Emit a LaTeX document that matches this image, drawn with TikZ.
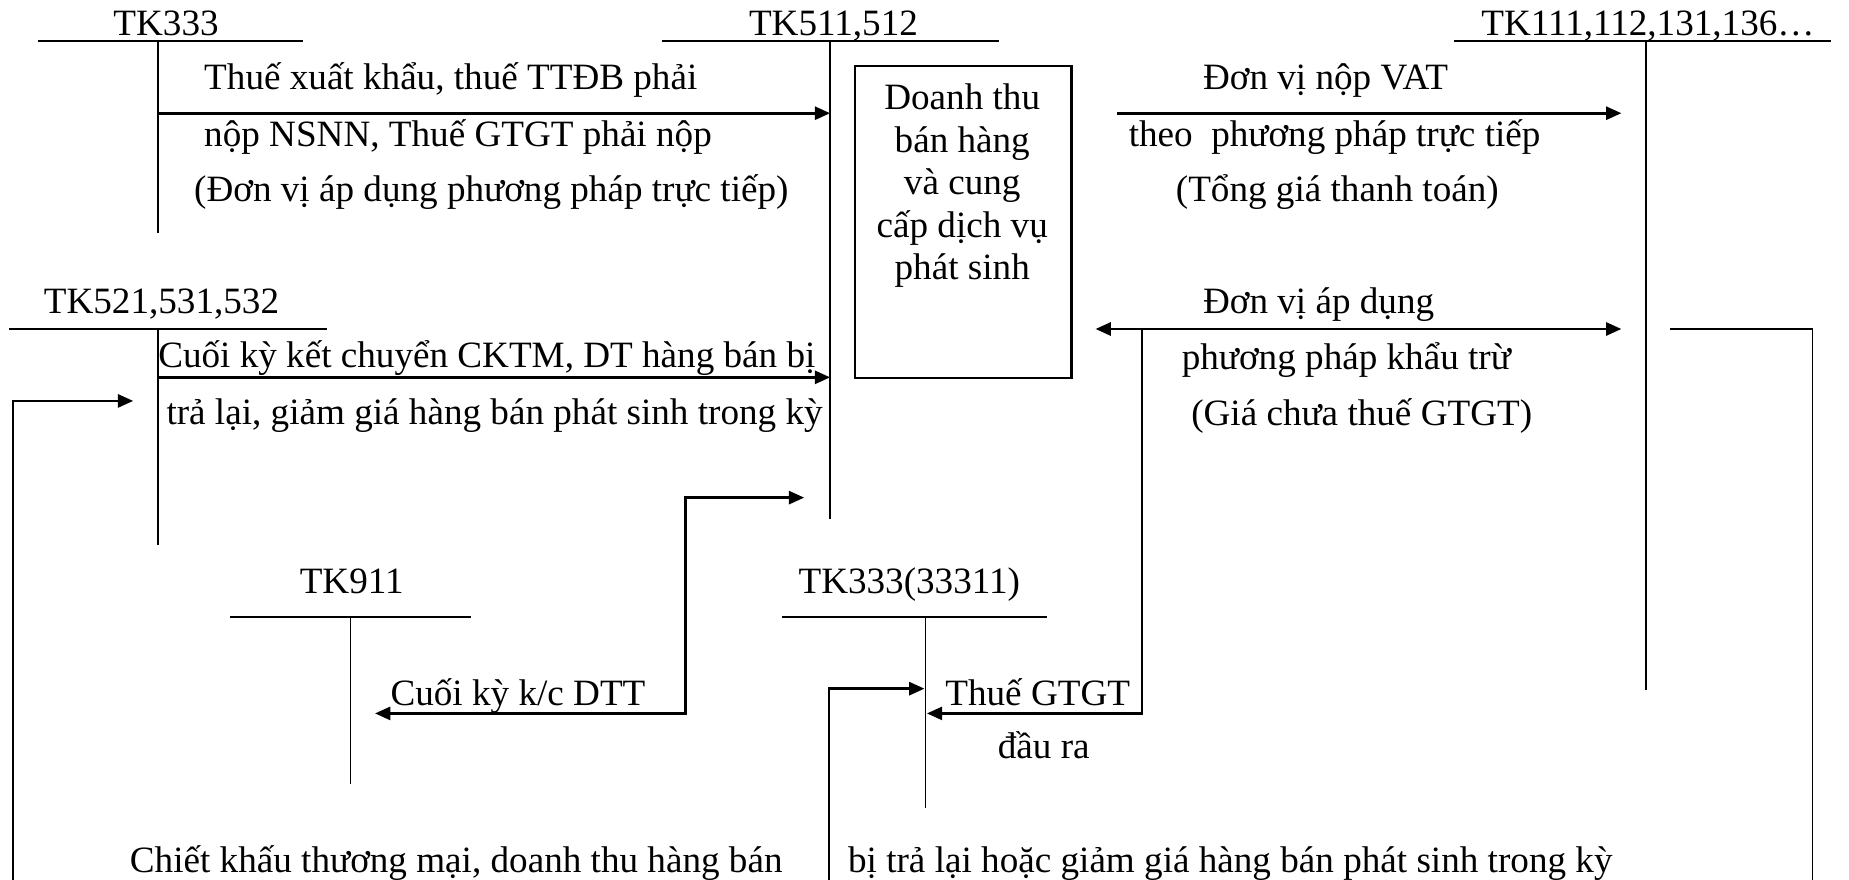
\documentclass[tikz,border=0pt]{standalone}
\usepackage{fontspec}
\setmainfont{Liberation Serif}
\usetikzlibrary{arrows.meta}
\begin{document}
\begin{tikzpicture}[x=1pt,y=-1pt,
  acct/.style={line width=1.9pt},
  stem/.style={line width=1.2pt},
  tip/.style={-{Triangle[length=13pt,width=11pt]}},
  flow/.style={line width=2.4pt,tip},
  twoway/.style={line width=2.4pt,{Triangle[length=13pt,width=11pt]}-{Triangle[length=13pt,width=11pt]}},
  plain/.style={line width=2.4pt},
  txt/.style={inner sep=0pt,anchor=base west,font=\fontsize{31.5}{36}\selectfont},
  ctxt/.style={inner sep=0pt,anchor=base,font=\fontsize{31.5}{36}\selectfont},
  boxed/.style={draw,line width=2pt,inner sep=0pt,anchor=north west}
]
\useasboundingbox (0,0) rectangle (1568,746);

% ---- T-accounts: heading line, stem and name ----
% TK333
\node[txt] (n333) at (96,30) {TK333};
\draw[acct] (32,35) -- (257,35);
\coordinate (t333) at (134,35);
\coordinate (b333) at (134,198);
\draw[stem] (t333) -- (b333);

% TK511,512
\node[txt] (n511) at (635,30) {TK511,512};
\draw[acct] (561,35) -- (847,35);
\coordinate (t511) at (704,35);
\coordinate (b511) at (704,440);
\draw[stem] (t511) -- (b511);

% TK111,112,131,136...
\node[txt] (n111) at (1256,30) {TK111,112,131,136…};
\draw[acct] (1233,35) -- (1553,35);
\coordinate (t111) at (1396,35);
\coordinate (b111) at (1396,585);
\draw[stem] (t111) -- (b111);

% TK521,531,532
\node[txt] (n521) at (37,266) {TK521,531,532};
\draw[acct] (8,279) -- (277,279);
\coordinate (t521) at (134,279);
\coordinate (b521) at (134,462);
\draw[stem] (t521) -- (b521);

% TK911
\node[txt] (n911) at (254,503) {TK911};
\draw[acct] (195,523) -- (399,523);
\coordinate (t911) at (297,523);
\coordinate (b911) at (297,665);
\draw[stem] (t911) -- (b911);

% TK333(33311)
\node[txt] (n33311) at (677,503) {TK333(33311)};
\draw[acct] (663,523) -- (888,523);
\coordinate (t33311) at (785,523);
\coordinate (b33311) at (785,685);
\draw[stem] (t33311) -- (b33311);

% ---- revenue box ----
\node[boxed,minimum width=183.5pt,minimum height=264.5pt] (rev) at (724,55) {};
\node[ctxt] (rev1) at (816,93) {Doanh thu};
\node[ctxt] (rev2) at (816,129) {bán hàng};
\node[ctxt] (rev3) at (816,165) {và cung};
\node[ctxt] (rev4) at (816,201) {cấp dịch vụ};
\node[ctxt] (rev5) at (816,237) {phát sinh};

% ---- TK333 -> TK511 ----
\coordinate (a1s) at (134,96);
\coordinate (a1e) at (704,96);
\draw[flow] (a1s) -- (a1e);
\node[txt] (l1a) at (173,76) {Thuế xuất khẩu, thuế TTĐB phải};
\node[txt] (l1b) at (173,124) {nộp NSNN, Thuế GTGT phải nộp};
\node[txt] (l1c) at (164.5,171) {(Đơn vị áp dụng phương pháp trực tiếp)};

% ---- box -> TK111 ----
\coordinate (a2s) at (947.5,96);
\coordinate (a2e) at (1375,96);
\draw[flow] (a2s) -- (a2e);
\node[txt] (l2a) at (1020,76) {Đơn vị nộp VAT};
\node[txt] (l2b) at (957,124) {theo\ \ phương pháp trực tiếp};
\node[txt] (l2c) at (997,171) {(Tổng giá thanh toán)};

% ---- TK521 -> TK511 ----
\coordinate (a3s) at (134,320);
\coordinate (a3e) at (704,320);
\draw[flow] (a3s) -- (a3e);
\node[txt] (l3a) at (134,312) {Cuối kỳ kết chuyển CKTM, DT hàng bán bị};
\node[txt] (l3b) at (141,360) {trả lại, giảm giá hàng bán phát sinh trong kỳ};

% ---- deduction method: both ways, and output VAT to TK33311 ----
\coordinate (a4l) at (929,279);
\coordinate (a4r) at (1375,279);
\draw[twoway] (a4l) -- (a4r);
\coordinate (a4k) at (968.5,279);
\coordinate (a4d) at (968.5,605);
\coordinate (a4e) at (786,605);
\draw[flow] (a4k) -- (a4d) -- (a4e);
\node[txt] (l4a) at (1020,266) {Đơn vị áp dụng};
\node[txt] (l4b) at (1002,313) {phương pháp khẩu trừ};
\node[txt] (l4c) at (1010,361) {(Giá chưa thuế GTGT)};
\node[txt] (l4d) at (801.5,598) {Thuế GTGT};
\node[txt] (l4e) at (846,643) {đầu ra};

% ---- closing net revenue to TK911 ----
\coordinate (a5t) at (682,422);
\coordinate (a5c) at (581.5,422);
\coordinate (a5b) at (581.5,605);
\coordinate (a5e) at (318,605);
\draw[twoway] (a5e) -- (a5b) -- (a5c) -- (a5t);
\node[txt] (l5) at (331,598) {Cuối kỳ k/c DTT};

% ---- discounts and returns loop ----
\coordinate (r1) at (1416,279);
\coordinate (r2) at (1537,279);
\coordinate (r3) at (1537,746);
\draw[stem,line width=1.5pt] (r1) -- (r2) -- (r3);
\coordinate (lb) at (11,746);
\coordinate (lc) at (11,340);
\coordinate (le) at (113,340);
\draw[flow] (lb) -- (lc) -- (le);
\coordinate (mb) at (703,746);
\coordinate (mc) at (703,584);
\coordinate (me) at (784,584);
\draw[flow] (mb) -- (mc) -- (me);
\node[txt] (l6a) at (110,739.5) {Chiết khấu thương mại, doanh thu hàng bán};
\node[txt] (l6b) at (719,739.5) {bị trả lại hoặc giảm giá hàng bán phát sinh trong kỳ};
\end{tikzpicture}
\end{document}
